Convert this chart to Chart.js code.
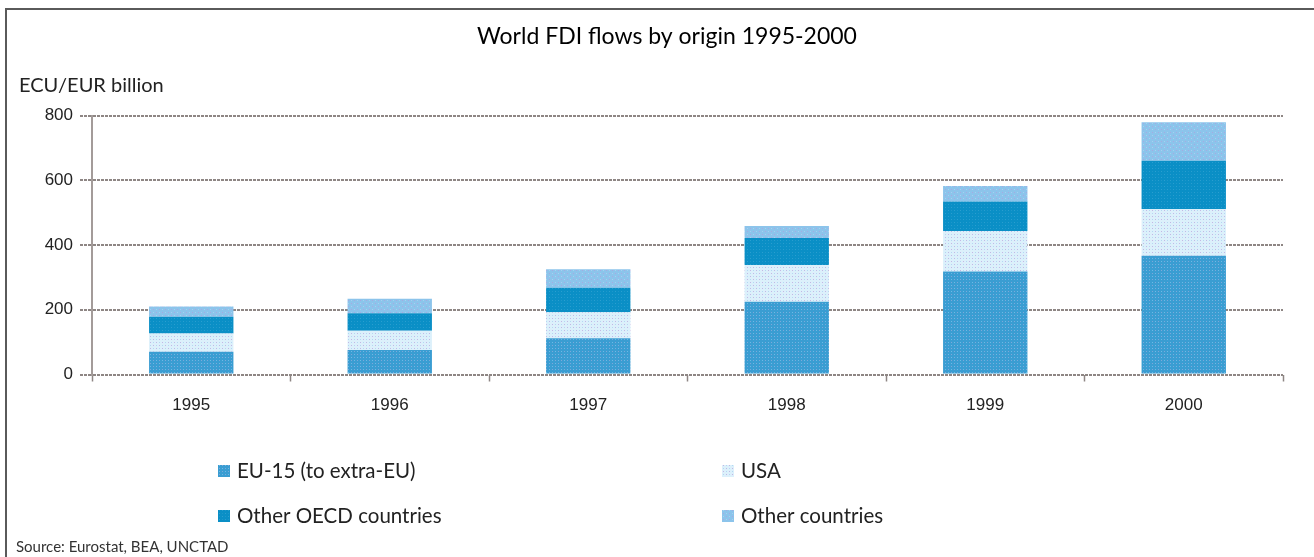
<!DOCTYPE html>
<html>
<head>
<meta charset="utf-8">
<title>World FDI flows by origin 1995-2000</title>
<script src="https://cdn.jsdelivr.net/npm/chart.js@4"></script>
<style>
  html, body { margin: 0; padding: 0; background: #fff; }
  #wrap { width: 1314px; height: 557px; }
</style>
</head>
<body>
<div id="wrap"><canvas id="fdiChart" width="1314" height="557"></canvas></div>
<script>
// values, ECU/EUR billion
const years = ['1995', '1996', '1997', '1998', '1999', '2000'];
const eu15 = [70, 76, 112, 225, 318, 367];
const usa = [57, 59, 80, 113, 125, 144];
const otherOecd = [51, 54, 76, 84, 91, 149];
const otherCountries = [32, 45, 57, 37, 48, 119];
const yTicks = [0, 200, 400, 600, 800];

const titleText = 'World FDI flows by origin 1995-2000';
const unitText = 'ECU/EUR billion';
const sourceText = 'Source: Eurostat, BEA, UNCTAD';

// small dotted fills like the printed original
function makePattern(base, dot1, dot2) {
  const c = document.createElement('canvas');
  c.width = 6; c.height = 6;
  const g = c.getContext('2d');
  g.fillStyle = base;
  g.fillRect(0, 0, 6, 6);
  g.fillStyle = dot1;
  g.fillRect(0, 0, 1, 1);
  g.fillRect(3, 3, 1, 1);
  g.fillStyle = dot2;
  g.fillRect(3, 0, 1, 1);
  g.fillRect(0, 3, 1, 1);
  return g.createPattern(c, 'repeat');
}

const fillEu = makePattern('#3a9dd2', '#6cbbe6', '#7fa6d8');
const fillUsa = makePattern('#dcf0fb', '#c4b6e4', '#b3d8f2');
const fillOecd = makePattern('#0a8fc6', '#2a9fd0', '#1d96cb');
const fillOther = makePattern('#8cc4eb', '#a9a8e0', '#a4d2f0');

const legendPos = [
  { x: 218, y: 471 },
  { x: 722, y: 471 },
  { x: 218, y: 516 },
  { x: 722, y: 516 }
];

const decor = {
  id: 'decor',
  afterDraw(chart) {
    const ctx = chart.ctx;
    ctx.save();
    // frame (top and left only)
    ctx.strokeStyle = '#5a5a5a';
    ctx.lineWidth = 2;
    ctx.beginPath();
    ctx.moveTo(6, 557);
    ctx.lineTo(6, 9);
    ctx.lineTo(1314, 9);
    ctx.stroke();

    ctx.fillStyle = '#000';
    ctx.textBaseline = 'middle';
    ctx.textAlign = 'center';
    ctx.font = '23px Lato';
    ctx.fillText(titleText, 667, 37);

    ctx.textAlign = 'left';
    ctx.font = '20px Lato';
    ctx.fillStyle = '#222';
    ctx.fillText(unitText, 19, 86);

    // legend, two columns
    chart.data.datasets.forEach((ds, i) => {
      const p = legendPos[i];
      ctx.fillStyle = ds.backgroundColor;
      ctx.fillRect(p.x, p.y - 6, 12, 12);
      ctx.fillStyle = '#222';
      ctx.font = '20.5px Lato';
      ctx.fillText(ds.label, p.x + 19, p.y);
    });

    ctx.font = '15px Lato';
    ctx.fillStyle = '#333';
    ctx.fillText(sourceText, 16, 547);
    ctx.restore();
  }
};

const gridGrey = '#8e8684';

new Chart(document.getElementById('fdiChart'), {
  type: 'bar',
  data: {
    labels: years,
    datasets: [
      { label: 'EU-15 (to extra-EU)', data: eu15, backgroundColor: fillEu },
      { label: 'USA', data: usa, backgroundColor: fillUsa },
      { label: 'Other OECD countries', data: otherOecd, backgroundColor: fillOecd },
      { label: 'Other countries', data: otherCountries, backgroundColor: fillOther }
    ]
  },
  options: {
    responsive: false,
    animation: false,
    devicePixelRatio: 1,
    barPercentage: 0.425,
    categoryPercentage: 1,
    layout: { padding: { left: 0, right: 31, top: 115.5, bottom: 142.5 } },
    plugins: {
      legend: { display: false },
      title: { display: false },
      tooltip: { enabled: false }
    },
    scales: {
      x: {
        stacked: true,
        afterFit: s => { s.height = 40; },
        grid: {
          display: true,
          offset: true,
          drawOnChartArea: false,
          drawTicks: true,
          tickLength: 7,
          tickColor: gridGrey,
          tickWidth: 1.5
        },
        border: { display: false },
        ticks: {
          padding: 14,
          color: '#222',
          font: { family: 'Liberation Sans', size: 17 }
        }
      },
      y: {
        stacked: true,
        min: 0,
        max: 800,
        afterFit: s => { s.width = 92; },
        afterBuildTicks: s => { s.ticks = yTicks.map(v => ({ value: v })); },
        grid: {
          color: gridGrey,
          lineWidth: 2,
          tickLength: 12,
          tickColor: gridGrey,
          tickWidth: 2,
          tickBorderDash: [3, 1]
        },
        border: { display: true, color: '#a39b99', width: 2, dash: [3, 1] },
        ticks: {
          padding: 7,
          color: '#222',
          font: { family: 'Liberation Sans', size: 17 }
        }
      }
    }
  },
  plugins: [decor]
});
</script>
</body>
</html>
